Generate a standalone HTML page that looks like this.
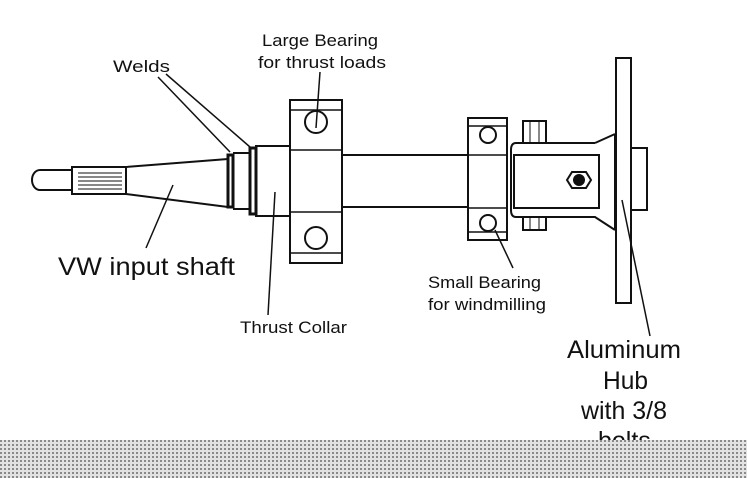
<!DOCTYPE html>
<html><head><meta charset="utf-8"><style>
html,body{margin:0;padding:0;background:#fff;}
svg{display:block}
text{font-family:"Liberation Sans",Arial,sans-serif;fill:#111}
</style></head><body>
<svg width="747" height="478" viewBox="0 0 747 478" xmlns="http://www.w3.org/2000/svg">
<defs>
<pattern id="dots" width="4" height="4" patternUnits="userSpaceOnUse">
<rect width="4" height="4" fill="#e2e2e2"/>
<rect x="0" y="0" width="2" height="2" fill="#8a8a8a"/>
</pattern>
</defs>
<rect width="747" height="478" fill="#fff"/>
<g fill="none" stroke="#111" stroke-width="2">
<path d="M72,170 H40 A8,10 0 0 0 40,190 H72"/>
<rect x="72" y="167" width="54" height="27"/>
<path d="M78,173 H122 M78,177 H122 M78,181 H122 M78,185 H122 M78,189 H122" stroke-width="1"/>
<path d="M126,167 L228,159 M126,194 L228,207"/>
<rect x="228" y="155" width="5" height="52" stroke-width="3"/>
<path d="M233,153 H250 M233,209 H250"/>
<rect x="250" y="148" width="6" height="66" stroke-width="3"/>
<rect x="256" y="146" width="34" height="70"/>
<rect x="290" y="100" width="52" height="163"/>
<path d="M290,150 H342 M290,212 H342 M290,110 H342 M290,253 H342" stroke-width="1.5"/>
<circle cx="316" cy="122" r="11"/>
<circle cx="316" cy="238" r="11"/>
<path d="M342,155 H468 M342,207 H468"/>
<rect x="468" y="118" width="39" height="122"/>
<path d="M468,155 H507 M468,208 H507 M468,126 H507 M468,232 H507" stroke-width="1.5"/>
<circle cx="488" cy="135" r="8"/>
<circle cx="488" cy="223" r="8"/>
<path d="M595,143 H516 Q511,143 511,150 V210 Q511,217 516,217 H595 L615,230 M595,143 L615,134"/>
<rect x="514" y="155" width="85" height="53"/>
<path d="M615,134 V230"/>
<rect x="523" y="121" width="23" height="22"/>
<path d="M530,121 V143 M539,121 V143" stroke-width="1"/>
<rect x="523" y="217" width="23" height="13"/>
<path d="M530,217 V230 M539,217 V230" stroke-width="1"/>
<polygon points="572,172 586,172 591,180 586,188 572,188 567,180"/>
<circle cx="579" cy="180" r="5" fill="#111"/>
<rect x="616" y="58" width="15" height="245"/>
<rect x="631" y="148" width="16" height="62"/>
<g stroke-width="1.5">
<path d="M158,77 L230,152"/>
<path d="M166,74 L250,147"/>
<path d="M320,72 L316,128"/>
<path d="M173,185 L146,248"/>
<path d="M275,192 L268,315"/>
<path d="M495,230 L513,268"/>
<path d="M622,200 L650,336"/>
</g>
</g>
<text x="262" y="46" font-size="17" textLength="116" lengthAdjust="spacingAndGlyphs">Large Bearing</text>
<text x="258" y="68" font-size="17" textLength="128" lengthAdjust="spacingAndGlyphs">for thrust loads</text>
<text x="113" y="72" font-size="17" textLength="57" lengthAdjust="spacingAndGlyphs">Welds</text>
<text x="58" y="275" font-size="25" textLength="177" lengthAdjust="spacingAndGlyphs">VW input shaft</text>
<text x="240" y="333" font-size="17" textLength="107" lengthAdjust="spacingAndGlyphs">Thrust Collar</text>
<text x="428" y="288" font-size="17" textLength="113" lengthAdjust="spacingAndGlyphs">Small Bearing</text>
<text x="428" y="310" font-size="17" textLength="118" lengthAdjust="spacingAndGlyphs">for windmilling</text>
<text x="567" y="358" font-size="25" textLength="114" lengthAdjust="spacingAndGlyphs">Aluminum</text>
<text x="603" y="389" font-size="25" textLength="45" lengthAdjust="spacingAndGlyphs">Hub</text>
<text x="581" y="419" font-size="25" textLength="86" lengthAdjust="spacingAndGlyphs">with 3/8</text>
<text x="598" y="449" font-size="25">bolts</text>
<rect x="0" y="440" width="747" height="38" fill="url(#dots)"/>
</svg>
</body></html>
